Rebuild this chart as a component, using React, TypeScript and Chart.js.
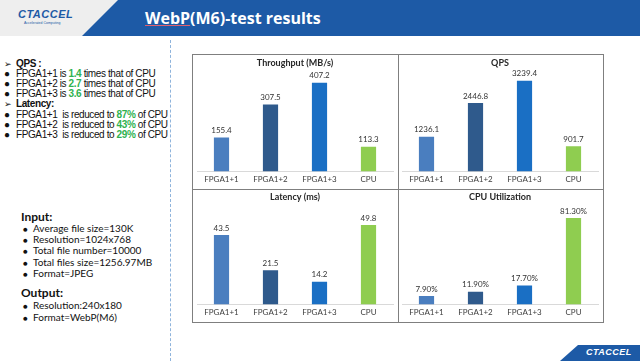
import React, { useEffect, useRef } from "react";
import { Chart, registerables } from "chart.js";
Chart.register(...registerables);

const categories = ["FPGA1+1", "FPGA1+2", "FPGA1+3", "CPU"];
const throughput = [155.4, 307.5, 407.2, 113.3];
const qps = [1236.1, 2446.8, 3239.4, 901.7];
const latency = [43.5, 21.5, 14.2, 49.8];
const cpuUtil = [7.9, 11.9, 17.7, 81.3];
const barColors = ["#4a7ebf", "#2f5a8c", "#1a6fc4", "#8fcd50"];

const CHART_FONT = "Lato, 'Open Sans', sans-serif";

type MiniProps = {
  title: string;
  data: number[];
  max: number;
  fmt: (v: number) => string;
  left: number;
  top: number;
  width: number;
  height: number;
  padL: number;
  padR: number;
  padT: number;
  padB: number;
};

function MiniBar(p: MiniProps) {
  const ref = useRef<HTMLCanvasElement | null>(null);
  useEffect(() => {
    if (!ref.current) return;
    const labelsPlugin = {
      id: "valueLabels",
      afterDatasetsDraw(chart: any) {
        const ctx = chart.ctx;
        const meta = chart.getDatasetMeta(0);
        ctx.save();
        ctx.font = `8px ${CHART_FONT}`;
        ctx.fillStyle = "#333333";
        ctx.textAlign = "center";
        ctx.textBaseline = "bottom";
        meta.data.forEach((bar: any, i: number) => {
          ctx.fillText(p.fmt(chart.data.datasets[0].data[i]), bar.x, bar.y - 3);
        });
        ctx.restore();
      },
    };
    const chart = new Chart(ref.current, {
      type: "bar",
      data: {
        labels: categories,
        datasets: [
          {
            data: p.data,
            backgroundColor: barColors,
            borderWidth: 0,
            barPercentage: 0.31,
            categoryPercentage: 1,
          },
        ],
      },
      options: {
        responsive: false,
        animation: false,
        devicePixelRatio: 1,
        layout: { padding: { left: p.padL, right: p.padR, top: 0, bottom: p.padB } },
        plugins: {
          legend: { display: false },
          tooltip: { enabled: false },
          title: {
            display: true,
            text: p.title,
            color: "#262626",
            font: { size: 9, weight: "bold", family: CHART_FONT },
            padding: { top: p.padT, bottom: 6 },
          },
        },
        scales: {
          x: {
            grid: { display: false, drawTicks: false, tickLength: 0 },
            border: { display: true, color: "#d9d9d9", width: 1 },
            ticks: { color: "#404040", font: { size: 8, family: CHART_FONT }, padding: 3 },
          },
          y: { display: false, min: 0, max: p.max },
        },
      },
      plugins: [labelsPlugin],
    });
    return () => chart.destroy();
  }, []);
  return (
    <canvas
      ref={ref}
      width={p.width}
      height={p.height}
      style={{ position: "absolute", left: p.left, top: p.top, width: p.width, height: p.height }}
    />
  );
}

const upperLines: { kind: "head" | "item"; parts: [string, string, string] }[] = [
  { kind: "head", parts: ["QPS :", "", ""] },
  { kind: "item", parts: ["FPGA1+1 is ", "1.4", " times that of CPU"] },
  { kind: "item", parts: ["FPGA1+2 is ", "2.7", " times that of CPU"] },
  { kind: "item", parts: ["FPGA1+3 is ", "3.6", " times that of CPU"] },
  { kind: "head", parts: ["Latency:", "", ""] },
  { kind: "item", parts: ["FPGA1+1  is reduced to ", "87%", " of CPU"] },
  { kind: "item", parts: ["FPGA1+2  is reduced to ", "43%", " of CPU"] },
  { kind: "item", parts: ["FPGA1+3  is reduced to ", "29%", " of CPU"] },
];
const upperY = [58, 68, 78, 88, 98, 109, 119, 129];

const inputItems = [
  "Average file size=130K",
  "Resolution=1024x768",
  "Total file number=10000",
  "Total files size=1256.97MB",
  "Format=JPEG",
];
const inputY = [222, 233, 244, 256, 267];
const outputItems = ["Resolution:240x180", "Format=WebP(M6)"];
const outputY = [299, 311];

export default function App() {
  const abs = (l: number, t: number): React.CSSProperties => ({ position: "absolute", left: l, top: t, whiteSpace: "pre" });
  const arial = "'Liberation Sans', Arial, sans-serif";
  const calibri = "Lato, 'Open Sans', sans-serif";
  return (
    <div style={{ position: "fixed", left: 0, top: 0, width: 640, height: 361, background: "#ffffff", overflow: "hidden" }}>
      {/* header */}
      <div style={{ position: "absolute", left: 0, top: 0, width: 640, height: 36, background: "#eeeeee" }} />
      <div
        style={{
          position: "absolute", left: 0, top: 0, width: 640, height: 36, background: "#1d5aa6",
          clipPath: "polygon(118px 0, 640px 0, 640px 36px, 82px 36px)",
        }}
      />
      <div style={{ ...abs(18, 8), fontFamily: arial, fontStyle: "italic", fontWeight: 900, fontSize: 11, color: "#1d5aa6", letterSpacing: 0.5 }}>
        CTACCEL
      </div>
      <div style={{ ...abs(24, 21), fontFamily: arial, fontSize: 3.5, color: "#1d5aa6" }}>Accelerated Computing</div>
      <div style={{ ...abs(145, 7), fontFamily: "'Open Sans', Lato, sans-serif", fontWeight: 700, fontSize: 16, color: "#ffffff" }}>
        <span style={{ textDecoration: "underline", textDecorationColor: "#e06070" }}>WebP</span>(M6)-test results
      </div>

      {/* dashed separator */}
      <div style={{ position: "absolute", left: 170, top: 40, width: 0, height: 321, borderLeft: "1px dashed #8fb4dc" }} />

      {/* upper left text */}
      {upperLines.map((ln, i) => (
        <div key={i} style={{ ...abs(4, upperY[i]), fontFamily: arial, fontSize: 10, letterSpacing: -0.4, color: "#111111", lineHeight: "12px", height: 12 }}>
          {ln.kind === "head" ? (
            <span style={{ fontSize: 9 }}>➢</span>
          ) : (
            <span style={{ fontSize: 10 }}>●</span>
          )}
          <span style={{ position: "absolute", left: 12, top: 0 }}>
            {ln.kind === "head" ? (
              <b>{ln.parts[0]}</b>
            ) : (
              <>
                {ln.parts[0]}
                <b style={{ color: "#2fb24f", fontWeight: 700 }}>{ln.parts[1]}</b>
                {ln.parts[2]}
              </>
            )}
          </span>
        </div>
      ))}

      {/* lower left text */}
      <div style={{ ...abs(21, 209), fontFamily: calibri, fontWeight: 700, fontSize: 12, color: "#111111" }}>Input:</div>
      {inputItems.map((t, i) => (
        <div key={t} style={{ ...abs(23, inputY[i]), fontFamily: calibri, fontSize: 10, color: "#111111", lineHeight: "12px" }}>
          <span style={{ fontSize: 8 }}>●</span>
          <span style={{ position: "absolute", left: 10 }}>{t}</span>
        </div>
      ))}
      <div style={{ ...abs(21, 285), fontFamily: calibri, fontWeight: 700, fontSize: 12, color: "#111111" }}>Output:</div>
      {outputItems.map((t, i) => (
        <div key={t} style={{ ...abs(23, outputY[i]), fontFamily: calibri, fontSize: 10, color: "#111111", lineHeight: "12px" }}>
          <span style={{ fontSize: 8 }}>●</span>
          <span style={{ position: "absolute", left: 10 }}>{t}</span>
        </div>
      ))}

      {/* chart grid frame */}
      <div style={{ position: "absolute", left: 192, top: 54, width: 410, height: 267, border: "1px solid #7f7f7f" }} />
      <div style={{ position: "absolute", left: 398, top: 54, width: 1, height: 268, background: "#7f7f7f" }} />
      <div style={{ position: "absolute", left: 192, top: 189, width: 411, height: 1, background: "#7f7f7f" }} />

      <MiniBar title="Throughput (MB/s)" data={throughput} max={444} fmt={(v) => v.toFixed(1)}
        left={193} top={55} width={205} height={134} padL={4} padR={5} padT={3} padB={2} />
      <MiniBar title="QPS" data={qps} max={3455} fmt={(v) => v.toFixed(1)}
        left={399} top={55} width={203} height={134} padL={3} padR={4} padT={3} padB={2} />
      <MiniBar title="Latency (ms)" data={latency} max={60} fmt={(v) => v.toFixed(1)}
        left={193} top={190} width={205} height={131} padL={4} padR={5} padT={2} padB={1} />
      <MiniBar title="CPU Utilization" data={cpuUtil} max={90} fmt={(v) => v.toFixed(2) + "%"}
        left={399} top={190} width={203} height={131} padL={3} padR={4} padT={2} padB={1} />

      {/* bottom-right logo */}
      <div
        style={{
          position: "absolute", left: 0, top: 345, width: 640, height: 16, background: "#1d5aa6",
          clipPath: "polygon(578px 0, 640px 0, 640px 16px, 560px 16px)",
        }}
      />
      <div style={{ ...abs(586, 347), fontFamily: arial, fontStyle: "italic", fontWeight: 900, fontSize: 9, color: "#ffffff", letterSpacing: 0.5 }}>
        CTACCEL
      </div>
    </div>
  );
}
